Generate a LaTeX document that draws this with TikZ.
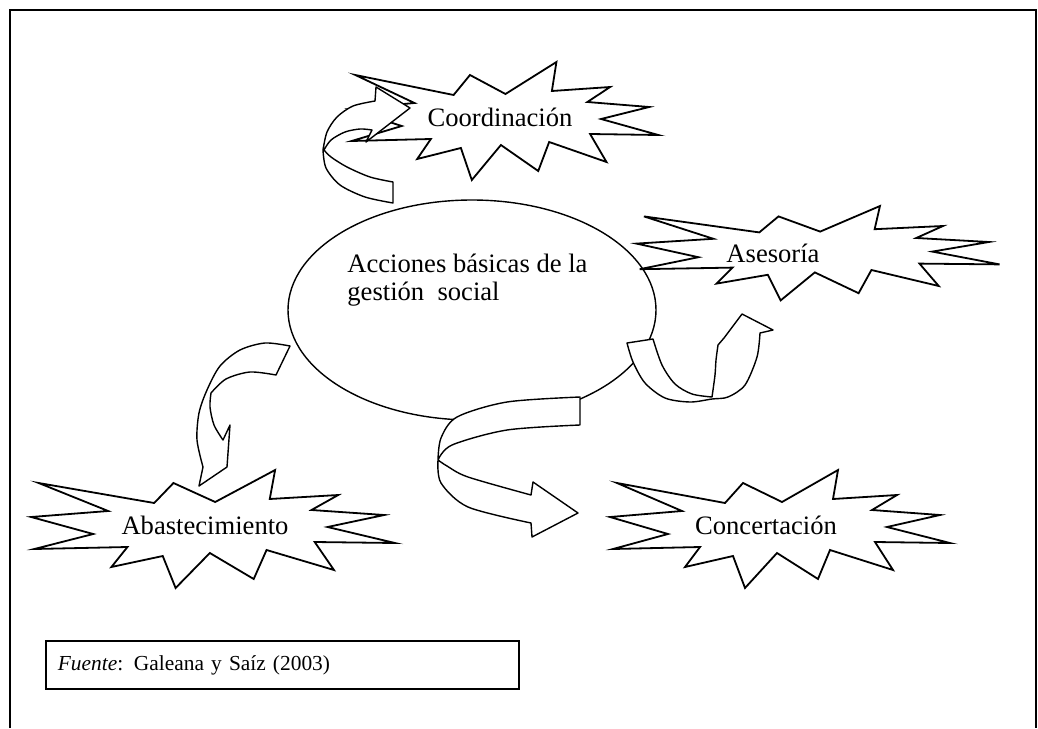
\documentclass[tikz,border=0pt]{standalone}
\usepackage{fontspec}
\setmainfont{Liberation Serif}
\usetikzlibrary{shapes.geometric, positioning}

\tikzset{
  burst/.style={draw, fill=white, line width=0.9pt, line join=miter},
  bandarrow/.style={draw, fill=white, line width=0.7pt, line join=round},
  rotulo/.style={inner sep=0pt}
}
\newcommand{\burstshape}{(-148,-42) -- (-40,-22) -- (-22,-42) -- (17,-23) -- (73,-55) -- (68,-26)
  -- (132,-30) -- (107,-15) -- (175,-10) -- (122,2) -- (185,18) -- (110,17) -- (128,45) -- (65,25)
  -- (53,54) -- (12,28) -- (-20,63) -- (-32,31) -- (-80,42) -- (-65,22) -- (-152,24) -- (-97,9)
  -- (-155,-8) -- (-83,-14) -- cycle}

\begin{document}
\begin{tikzpicture}[x=0.5pt, y=-0.5pt, font=\fontsize{13.3}{14}\selectfont]
\useasboundingbox (0,0) rectangle (1038,728);
% Frame
\draw[line width=1pt] (10,728) -- (10,10) -- (1036,10) -- (1036,728);

% Central ellipse
\node (gestion) [ellipse, draw, line width=0.7pt, minimum width=184pt, minimum height=110pt, inner sep=0pt] at (472,310) {};
\node (accion) [rotulo, anchor=west, align=left] at (347,280) {Acciones básicas de la\\gestión\ \ social};

% Explosions
\foreach \bx/\by/\sx/\sy in {490/117/0.91/1, 802/250/1.068/0.8, 197/525/1.07/1, 765/525/1/1}
  \draw[burst, shift={(\bx,\by)}, xscale=\sx, yscale=\sy] \burstshape;

% Coordinacion arrow
\draw[bandarrow] plot[smooth] coordinates {(393,182) (370,177) (347,167) (331,157) (324,150)}
  -- plot[smooth] coordinates {(324,150) (331,140) (345,132) (360,129) (372,130)}
  -- (366,142) -- (410,108) -- (376,87) -- (375,101)
  -- plot[smooth] coordinates {(375,101) (353,106) (337,117) (327,132) (323,150)}
  -- plot[smooth] coordinates {(323,150) (326,168) (340,185) (365,197) (393,203)}
  -- cycle;

% Asesoria arrow
\draw[bandarrow] (627,343) -- (653,339)
  -- plot[smooth] coordinates {(653,339) (662,365) (675,384) (692,394) (712,397)}
  -- plot[smooth] coordinates {(712,397) (715,375) (716,360) (718,345)}
  -- (724,338) -- (742,314) -- (773,330) -- (760,333)
  -- plot[smooth] coordinates {(760,333) (757,357) (745,385) (728,397) (712,399) (690,402) (665,398) (645,383) (633,362) (627,343)}
  -- cycle;

% Abastecimiento arrow
\draw[bandarrow] (290,346) -- (276,375)
  -- plot[smooth] coordinates {(276,375) (250,372) (226,379) (211,393)}
  -- plot[smooth] coordinates {(211,393) (210,407) (214,425) (223,440)}
  -- (230,425) -- (227,467) -- (199,486) -- (203,467)
  -- plot[smooth] coordinates {(203,467) (197,440) (199,413) (207,390) (220,366) (240,350) (265,343) (290,346)}
  -- cycle;

% Concertacion arrow
\draw[bandarrow] plot[smooth] coordinates {(580,397) (507,402) (457,417) (441,438) (438,460)}
  -- plot[smooth] coordinates {(438,460) (441,483) (468,507) (531,523)}
  -- (532,537) -- (578,513) -- (533,482) -- (531,495)
  -- plot[smooth] coordinates {(531,495) (468,477) (447,466) (438,460)}
  -- plot[smooth] coordinates {(438,460) (452,445) (507,430) (580,425)}
  -- cycle;

% Labels
\node (coord) [rotulo] at (500,117) {Coordinación};
\node (asesoria) [rotulo] at (773,253) {Asesoría};
\node (abasto) [rotulo] at (205,525) {Abastecimiento};
\node (concert) [rotulo] at (766,525) {Concertación};

% Source
\node (fuente) [draw, line width=0.9pt, anchor=north west, inner xsep=6pt, inner ysep=0pt, minimum height=24pt, text width=224.5pt, font=\fontsize{10.7}{12}\selectfont] at (45,640) {\textit{Fuente}: Galeana y Saíz (2003)};
\end{tikzpicture}
\end{document}
